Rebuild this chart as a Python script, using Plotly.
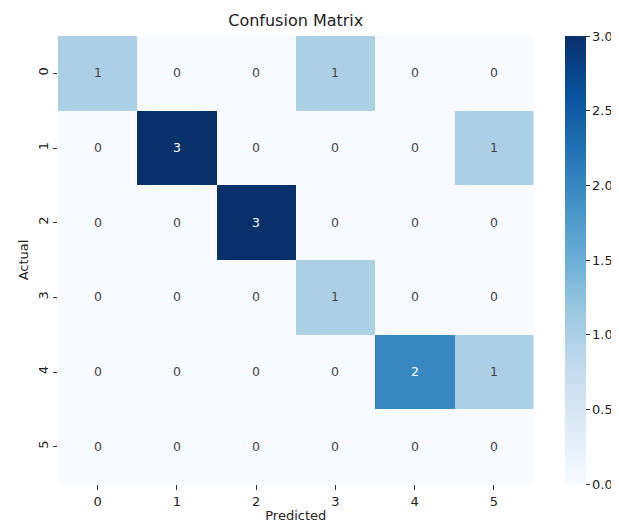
import plotly.graph_objects as go
import plotly.express as px

labels = ["0", "1", "2", "3", "4", "5"]
matrix = [
    [1, 0, 0, 1, 0, 0],
    [0, 3, 0, 0, 0, 1],
    [0, 0, 3, 0, 0, 0],
    [0, 0, 0, 1, 0, 0],
    [0, 0, 0, 0, 2, 1],
    [0, 0, 0, 0, 0, 0],
]
cbar_ticks = [0.0, 0.5, 1.0, 1.5, 2.0, 2.5, 3.0]

blues = px.colors.sequential.Blues
n = len(blues)
colorscale = [[i / (n - 1), c] for i, c in enumerate(blues)]

# page body adds an 8px offset, so the figure is drawn 8px smaller
W, H = 611, 516
ml, mr, mt, mb = 50, 4, 28, 40
pw = W - ml - mr
plot_right = 525.5

fig = go.Figure(
    go.Heatmap(
        z=matrix,
        x=labels,
        y=labels,
        colorscale=colorscale,
        zmin=0,
        zmax=3,
        xgap=0,
        ygap=0,
        texttemplate="%{z}",
        textfont=dict(family="DejaVu Sans", size=12.5),
        hoverongaps=False,
        colorbar=dict(
            x=(557 - ml) / pw,
            xanchor="left",
            thickness=21,
            lenmode="fraction",
            len=1,
            y=0.5,
            yanchor="middle",
            ypad=0,
            xpad=0,
            outlinewidth=0,
            tickmode="array",
            tickvals=cbar_ticks,
            ticktext=[f"{v:.1f}" for v in cbar_ticks],
            ticks="outside",
            ticklen=4,
            tickcolor="#333",
            tickfont=dict(family="DejaVu Sans", size=13, color="#222"),
        ),
    )
)

fig.update_layout(
    width=W,
    height=H,
    margin=dict(l=ml, r=mr, t=mt, b=mb, autoexpand=False),
    paper_bgcolor="white",
    plot_bgcolor="white",
    font=dict(family="DejaVu Sans", color="#222"),
    title=dict(
        text="Confusion Matrix",
        x=(ml + (plot_right - ml) / 2) / W,
        xanchor="center",
        y=1 - 12 / H,
        yanchor="middle",
        font=dict(family="DejaVu Sans", size=16, color="#222"),
    ),
    xaxis=dict(
        domain=[0, (plot_right - ml) / pw],
        title=dict(text="Predicted", font=dict(size=13), standoff=3),
        automargin=False,
        ticks="outside",
        ticklen=5,
        tickcolor="#333",
        tickfont=dict(size=13),
        showgrid=False,
        zeroline=False,
        showline=False,
    ),
    yaxis=dict(
        autorange="reversed",
        title=dict(text="Actual", font=dict(size=13), standoff=4),
        automargin=False,
        ticks="outside",
        ticklen=4,
        tickcolor="#333",
        tickangle=-90,
        tickfont=dict(size=13),
        showgrid=False,
        zeroline=False,
        showline=False,
    ),
)

fig.write_html("out.html")
